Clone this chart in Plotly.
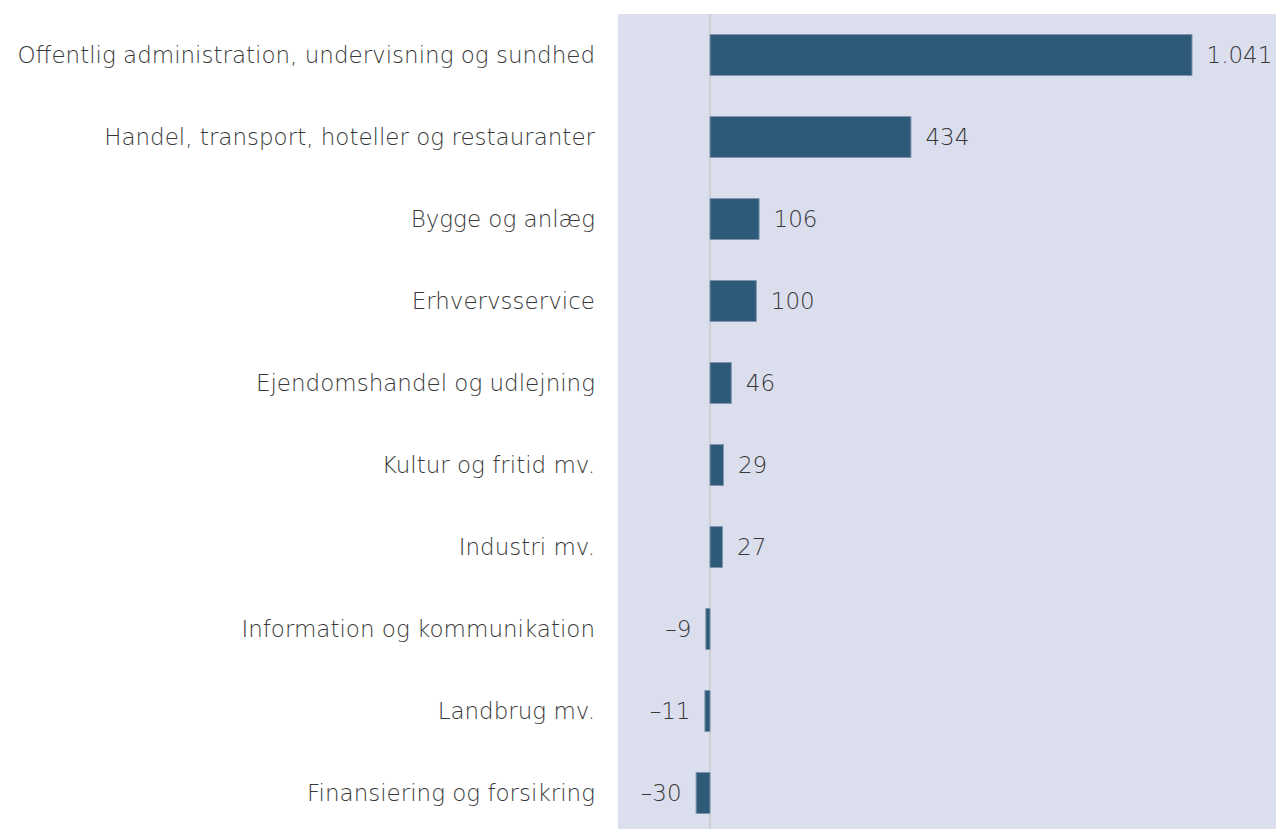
import plotly.graph_objects as go

categories = [
    "Offentlig administration, undervisning og sundhed",
    "Handel, transport, hoteller og restauranter",
    "Bygge og anlæg",
    "Erhvervsservice",
    "Ejendomshandel og udlejning",
    "Kultur og fritid mv.",
    "Industri mv.",
    "Information og kommunikation",
    "Landbrug mv.",
    "Finansiering og forsikring",
]
values = [1041, 434, 106, 100, 46, 29, 27, -9, -11, -30]

def fmt(v):
    s = f"{abs(v):,}".replace(",", ".")
    return ("–" + s + "\u2002") if v < 0 else ("\u2002" + s)

labels = [fmt(v) for v in values]

FONT = "DejaVu Sans ExtraLight, DejaVu Sans"
TXT = "#383838"
FS = 23

fig = go.Figure(go.Bar(
    y=categories, x=values, orientation="h",
    marker=dict(color="#2d5a78", line=dict(color="#7d93aa", width=1)),
    width=0.5,
    text=labels, textposition="outside",
    textfont=dict(family=FONT, size=FS, color=TXT, weight=200),
    cliponaxis=False,
))

fig.update_layout(
    width=1276, height=829,
    margin=dict(l=618, r=0, t=14, b=0),
    paper_bgcolor="white", plot_bgcolor="#dadeed",
    showlegend=False,
    font=dict(family=FONT, size=FS, color=TXT, weight=200),
    xaxis=dict(range=[-198.7, 1222.4], showgrid=False, showticklabels=False,
               zeroline=True, zerolinecolor="#cfd0d6", zerolinewidth=2, fixedrange=True),
    yaxis=dict(range=[9.439, -0.5], showgrid=False, ticks="", ticklabelstandoff=22,
               tickfont=dict(family=FONT, size=FS, color=TXT, weight=200), fixedrange=True),
    bargap=0.5,
)

fig.write_html("out.html", config={"displayModeBar": False},
               post_script="document.body.style.margin='0';document.body.style.overflow='hidden';")
